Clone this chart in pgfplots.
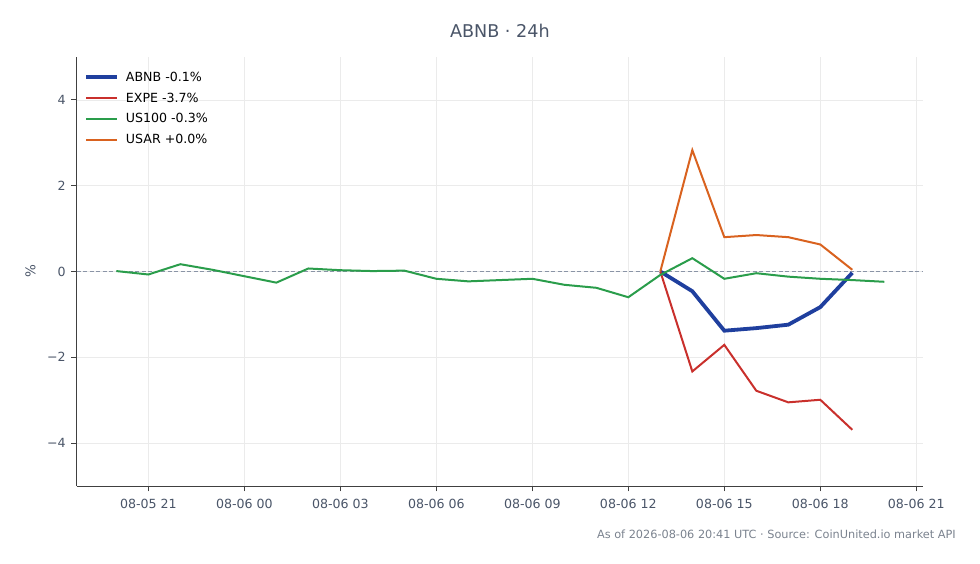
\documentclass[border=0pt]{standalone}
\usepackage{pgfplots}
\pgfplotsset{compat=1.18}
\usepackage{fontspec}
\setmainfont{DejaVu Sans}
\definecolor{cabnb}{HTML}{1F3F9E}
\definecolor{cexpe}{HTML}{C9302C}
\definecolor{cus}{HTML}{2A9D4B}
\definecolor{cusar}{HTML}{D9621F}
\definecolor{ctext}{HTML}{4A5568}
\definecolor{cgrid}{HTML}{EBEBEB}
\definecolor{czero}{HTML}{8A94A6}
\definecolor{cfoot}{HTML}{7A828E}
\begin{document}
\begin{tikzpicture}[x=1pt,y=1pt]
\path[use as bounding box] (0,0) rectangle (980,564);
\begin{axis}[
  at={(76.7pt,78pt)}, anchor=south west,
  scale only axis, width=846.3pt, height=429pt,
  xmin=-5.24, xmax=21.21, ymin=-5, ymax=5,
  axis x line*=bottom, axis y line*=left,
  axis line style={color=black!75, line width=0.9pt},
  tick align=outside,
  major tick length=5.5pt,
  tick style={color=black!75, line width=0.9pt},
  xtick={-3,0,3,6,9,12,15,18,21},
  xticklabels={08-05 21,08-06 00,08-06 03,08-06 06,08-06 09,08-06 12,08-06 15,08-06 18,08-06 21},
  ytick={-4,-2,0,2,4},
  yticklabels={−4,−2,0,2,4},
  ticklabel style={font=\fontsize{12.6}{14}\selectfont, color=ctext},
  xticklabel style={yshift=-4pt},
  yticklabel style={xshift=-2pt},
  grid=major,
  major grid style={color=cgrid, line width=0.7pt},
  ylabel={\%},
  ylabel style={font=\fontsize{13.5}{15}\selectfont, color=ctext, at={(axis description cs:-0.0545,0.5)}, anchor=center},
  title={ABNB · 24h},
  title style={font=\fontsize{17.6}{20}\selectfont, color=ctext, yshift=10pt},
  legend style={at={(0.005,0.975)}, anchor=north west, draw=none, fill=none,
    font=\fontsize{12.6}{14}\selectfont, row sep=6pt,
    legend cell align=left},
  legend image code/.code={\draw[#1] (0pt,0pt) -- (31pt,0pt); \path (36pt,0pt);},
]
\addplot[color=czero, dashed, line width=1pt, dash pattern=on 4pt off 2.5pt, forget plot] coordinates {(-5.24,0) (21.21,0)};
\addplot[color=cabnb, line width=3.8pt] coordinates {
(13,0) (14,-0.46) (15,-1.38) (16,-1.32) (17,-1.24) (18,-0.83) (19,-0.03)};
\addlegendentry{ABNB -0.1\%}
\addplot[color=cexpe, line width=2pt] coordinates {
(13,0) (14,-2.33) (15,-1.71) (16,-2.78) (17,-3.05) (18,-2.99) (19,-3.69)};
\addlegendentry{EXPE -3.7\%}
\addplot[color=cus, line width=2pt] coordinates {
(-4,0.01) (-3,-0.07) (-2,0.17) (-1,0.04) (0,-0.11) (1,-0.26) (2,0.07) (3,0.03) (4,0.01) (5,0.02)
(6,-0.17) (7,-0.23) (8,-0.2) (9,-0.17) (10,-0.31) (11,-0.38) (12,-0.6) (13,-0.08) (14,0.31)
(15,-0.17) (16,-0.04) (17,-0.12) (18,-0.17) (19,-0.2) (20,-0.24)};
\addlegendentry{US100 -0.3\%}
\addplot[color=cusar, line width=2pt] coordinates {
(13,0) (14,2.83) (15,0.80) (16,0.85) (17,0.80) (18,0.63) (19,0.04)};
\addlegendentry{USAR +0.0\%}
\end{axis}
\node[anchor=east, inner sep=0pt, font=\fontsize{11.3}{13}\selectfont, color=cfoot] at (956,30) {As of 2026-08-06 20:41 UTC · Source: CoinUnited.io market API};
\end{tikzpicture}
\end{document}
